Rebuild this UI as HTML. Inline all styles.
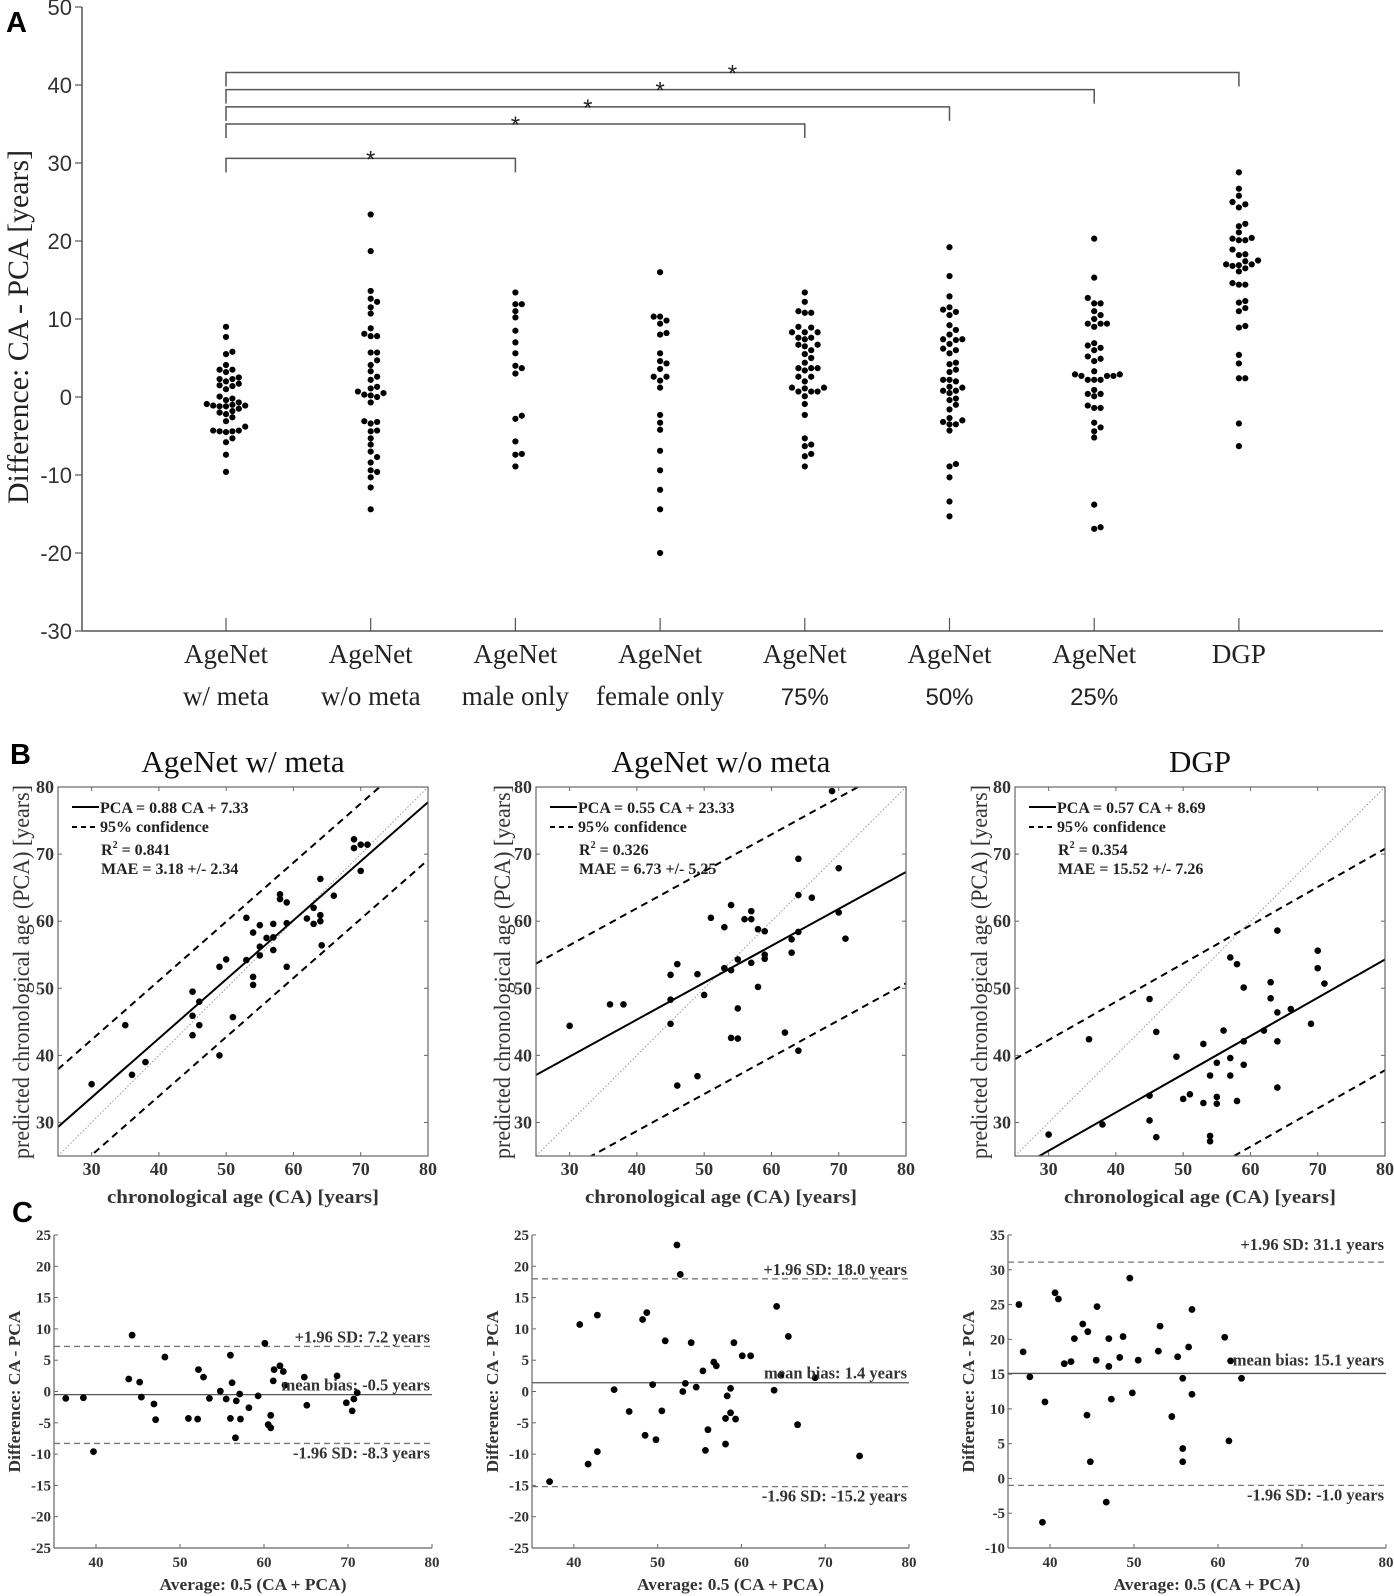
<!DOCTYPE html>
<html><head><meta charset="utf-8"><style>
html,body{margin:0;padding:0;background:#fff;}
svg{display:block;}
</style></head><body>
<svg id="fig" width="1394" height="1596" viewBox="0 0 1394 1596" xmlns="http://www.w3.org/2000/svg">
<text x="6" y="32" font-family="Liberation Sans, sans-serif" font-weight="bold" font-size="29">A</text>
<text x="10" y="764" font-family="Liberation Sans, sans-serif" font-weight="bold" font-size="29">B</text>
<text x="12" y="1222" font-family="Liberation Sans, sans-serif" font-weight="bold" font-size="29">C</text>
</svg>
<script>
// ===== Panel A data =====
const catLine1 = ['AgeNet','AgeNet','AgeNet','AgeNet','AgeNet','AgeNet','AgeNet','DGP'];
const catLine2 = ['w/ meta','w/o meta','male only','female only','75%','50%','25%',''];
const aTicks = [-30,-20,-10,0,10,20,30,40,50];
const aG1 = [-1.1,-1.0,-9.6,2.0,9.0,1.5,-0.9,-2.0,-4.5,5.5,-4.3,-4.4,3.5,2.3,-1.1,0.05,-1.2,-4.3,5.8,1.4,-1.5,-7.4,-0.4,-4.4,-2.6,-0.7,7.7,-5.3,-5.8,-3.8,1.7,3.5,4.1,3.2,1.0,2.3,-2.2,2.5,-1.8,-1.2,-3.1,-0.2];
const aG2 = [-14.4,10.7,-11.6,12.2,-9.6,0.3,-3.2,11.5,-7.0,12.6,1.1,-7.7,-3.1,8.1,23.4,18.7,0,1.3,7.8,0.7,3.3,-9.4,-6.1,4.7,4.1,-8.4,-4.3,-0.7,-3.4,0.5,7.8,-4.4,5.7,5.7,0.2,13.6,2.6,8.8,-5.3,2.2,-10.3];
const aG3 = [13.4,11.9,11.9,11.0,10.2,8.5,7.0,5.6,4.0,3.7,3.0,-2.4,-2.8,-5.7,-7.4,-7.3,-8.9];
const aG4 = [16.0,10.3,10.3,9.8,9.4,8.2,8.0,5.6,4.6,4.3,3.6,2.6,2.6,2.1,1.2,-2.3,-3.3,-4.2,-6.9,-9.4,-11.9,-14.4,-20.0];
const aG5 = [13.4,12.2,11.0,10.8,10.8,9.0,8.9,8.3,8.3,8.3,7.6,7.6,7.4,6.7,6.7,6.5,6.0,5.5,5.0,4.4,3.7,3.7,3.7,3.4,2.6,2.6,2.0,1.2,1.2,1.1,0.7,0.7,0.7,0.1,-0.9,-2.3,-5.3,-6.1,-6.3,-7.3,-7.6,-8.9];
const aG6 = [19.2,15.5,12.9,11.5,11.2,10.9,10.5,9.2,8.6,8.0,7.4,7.4,7.3,6.8,6.2,6.0,5.6,4.4,4.2,3.5,3.2,2.2,2.2,2.0,1.3,1.2,0.8,0.8,0.5,-0.2,-0.4,-1.0,-1.6,-2.7,-3.0,-3.2,-3.5,-3.5,-4.3,-8.6,-8.9,-10.3,-13.4,-15.3];
const aG7 = [20.3,15.3,12.7,12.0,12.0,11.0,10.5,10.0,9.4,9.0,9.4,9.4,6.9,6.6,6.3,6.0,4.9,5.2,4.6,3.3,2.9,2.9,2.7,2.7,2.7,2.2,2.2,2.2,0.9,0.4,0.4,0.1,-1.1,-1.4,-1.4,-3.3,-3.9,-4.4,-5.2,-13.8,-16.7,-16.9];
const aG8 = [25.0,18.2,14.6,-6.3,11.0,26.7,25.8,16.5,16.8,20.1,22.2,9.1,21.1,2.4,17.0,24.7,-3.4,16.1,20.1,11.4,17.4,20.4,28.8,12.3,17.0,18.3,21.9,8.9,17.5,14.4,4.3,2.4,18.9,24.3,12.1,20.3,5.4,16.9,14.4];
const sigFrom = [0,0,0,0,0];
const sigTo = [7,6,5,4,2];
const sigLevel = [41.6,39.4,37.2,35.0,30.6];

// ===== Panel B data =====
const bTitles = ['AgeNet w/ meta','AgeNet w/o meta','DGP'];
const bTicks = [30,40,50,60,70,80];
const bCA1 = [30,35,36,38,45,45,45,46,46,49,49,50,51,53,53,54,54,54,55,55,55,56,57,57,57,58,58,59,59,59,62,63,63,64,64,64,64.2,66,69,69,70,70,71];
const bPCA1 = [35.7,44.5,37.1,39.0,49.5,45.9,43.0,48.0,44.5,53.2,40.0,54.3,45.7,60.5,54.2,58.3,51.7,50.5,59.4,56.2,54.9,57.5,59.6,57.6,55.7,64.0,63.3,62.8,59.7,53.2,60.4,62.0,59.6,66.3,60.9,60.0,56.4,63.8,72.2,70.9,71.4,67.5,71.4];
const bCA2 = [30,36,38,45,45,45,46,46,49,49,50,51,53,53,54,54,54,55,55,55,56,57,57,57,58,58,59,59,59,62,63,63,64,64,64,64,66,69,70,70,71];
const bPCA2 = [44.4,47.6,47.6,52.0,48.3,44.7,53.6,35.5,52.1,36.9,49.0,60.5,59.1,53.0,62.4,52.7,42.6,54.3,47.0,42.5,60.3,61.5,60.3,53.8,58.8,50.2,58.5,55.0,54.4,43.4,57.3,55.3,69.3,63.9,58.4,40.7,63.5,79.4,67.9,61.3,57.4];
const bCA3 = [30,36,38,45,45,45,46,46,49,50,51,53,53,54,54,54,55,55,55,56,57,57,57,58,58,59,59,59,62,63,63,64,64,64,64,66,69,70,70,71];
const bPCA3 = [28.2,42.4,29.7,48.4,34.0,30.3,43.5,27.8,39.8,33.5,34.2,41.7,32.9,37.0,28.0,27.2,38.9,33.8,32.8,43.7,54.6,39.6,37.0,53.6,33.2,50.1,42.1,38.6,43.7,50.9,48.5,58.6,46.4,42.1,35.2,46.9,44.7,55.6,53.0,50.7];
const fitSlope = [0.88,0.55,0.57];
const fitIntercept = [7.33,23.33,8.69];
const confHalf = [8.6,16.6,16.5];
const legendFit = ['PCA = 0.88 CA + 7.33','PCA = 0.55 CA + 23.33','PCA = 0.57 CA + 8.69'];
const legendR2 = ['0.841','0.326','0.354'];
const legendMAE = ['MAE = 3.18 +/- 2.34','MAE = 6.73 +/- 5.25','MAE = 15.52 +/- 7.26'];

// ===== Panel C data =====
const cAvg1 = [36.4,38.5,39.7,43.9,44.3,45.2,45.4,46.9,47.1,48.2,51.0,52.1,52.2,52.8,53.5,54.8,55.5,56.0,56.0,56.2,56.7,56.6,57.1,57.2,58.2,59.3,60.1,60.5,60.8,60.8,61.1,61.2,61.9,62.3,62.5,64.8,65.1,68.7,69.8,70.7,70.5,71.1];
const cDiff1 = [-1.1,-1.0,-9.6,2.0,9.0,1.5,-0.9,-2.0,-4.5,5.5,-4.3,-4.4,3.5,2.3,-1.1,0.05,-1.2,-4.3,5.8,1.4,-1.5,-7.4,-0.4,-4.4,-2.6,-0.7,7.7,-5.3,-5.8,-3.8,1.7,3.5,4.1,3.2,1.0,2.3,-2.2,2.5,-1.8,-1.2,-3.1,-0.2];
const cAvg2 = [37.1,40.7,41.7,42.8,42.8,44.8,46.6,48.2,48.5,48.7,49.4,49.8,50.5,50.9,52.3,52.7,53.0,53.3,54.0,54.6,55.4,55.7,56.0,56.7,57.0,58.1,58.1,58.3,58.7,58.7,59.1,59.3,60.1,61.1,63.9,64.2,64.7,65.6,66.7,68.8,74.1];
const cDiff2 = [-14.4,10.7,-11.6,12.2,-9.6,0.3,-3.2,11.5,-7.0,12.6,1.1,-7.7,-3.1,8.1,23.4,18.7,0,1.3,7.8,0.7,3.3,-9.4,-6.1,4.7,4.1,-8.4,-4.3,-0.7,-3.4,0.5,7.8,-4.4,5.7,5.7,0.2,13.6,2.6,8.8,-5.3,2.2,-10.3];
const cAvg3 = [36.3,36.8,37.6,39.1,39.4,40.6,41.0,41.7,42.5,42.9,43.9,44.4,44.5,44.8,45.5,45.6,46.7,47.0,47.0,47.3,48.3,48.7,49.5,49.8,50.5,52.9,53.1,54.5,55.2,55.8,55.8,55.8,56.5,56.9,56.9,60.8,61.3,61.5,62.8];
const cDiff3 = [25.0,18.2,14.6,-6.3,11.0,26.7,25.8,16.5,16.8,20.1,22.2,9.1,21.1,2.4,17.0,24.7,-3.4,16.1,20.1,11.4,17.4,20.4,28.8,12.3,17.0,18.3,21.9,8.9,17.5,14.4,4.3,2.4,18.9,24.3,12.1,20.3,5.4,16.9,14.4];
const cMean = [-0.5,1.4,15.1];
const cUpper = [7.2,18.0,31.1];
const cLower = [-8.3,-15.2,-1.0];
const cXTicks = [40,50,60,70,80];
const cYTicks12 = [-25,-20,-15,-10,-5,0,5,10,15,20,25];
const cYTicks3 = [-10,-5,0,5,10,15,20,25,30,35];

// ===== helpers =====
const NS = 'http://www.w3.org/2000/svg';
const svg = document.getElementById('fig');
function el(tag, attrs, parent) {
  const e = document.createElementNS(NS, tag);
  for (const k in attrs) e.setAttribute(k, attrs[k]);
  (parent || svg).appendChild(e);
  return e;
}
const SERIF = '"Liberation Serif", serif';
const SANS = '"Liberation Sans", sans-serif';

// ===== Panel A =====
const gA = el('g', {});


const aLeft = 82, aRight = 1383, aTop = 7, aBottom = 631;
const aMin = -30, aMax = 50;
function yA(v) { return aBottom - (v - aMin) * (aBottom - aTop) / (aMax - aMin); }
function xA(i) { return 226 + 144.7 * i; }
let ln = el('line', {x1: aLeft, y1: aTop, x2: aLeft, y2: aBottom, stroke: '#555', 'stroke-width': 1.5}, gA);


ln = el('line', {x1: aLeft, y1: aBottom, x2: aRight, y2: aBottom, stroke: '#555', 'stroke-width': 1.5}, gA);


aTicks.forEach(t => {
  const y = yA(t);
  el('line', {x1: aLeft - 7, y1: y, x2: aLeft, y2: y, stroke: '#555', 'stroke-width': 1.2}, gA);
  const tx = el('text', {x: aLeft - 10, y: y + 8, 'text-anchor': 'end', 'font-family': SANS, 'font-size': 22, fill: '#333'}, gA);
  tx.textContent = String(t);
  
  
});
const yt = el('text', {transform: 'translate(28,' + 327 + ') rotate(-90)', 'text-anchor': 'middle', 'font-family': SERIF, 'font-size': 30, fill: '#222', textLength: 354, lengthAdjust: 'spacingAndGlyphs'}, gA);
yt.textContent = 'Difference: CA - PCA [years]';


catLine1.forEach((c, i) => {
  const x = xA(i);
  el('line', {x1: x, y1: aBottom, x2: x, y2: aBottom - 13, stroke: '#555', 'stroke-width': 1.2}, gA);
  const t1 = el('text', {x: x, y: 663, 'text-anchor': 'middle', 'font-family': SERIF, 'font-size': 27, fill: '#222'}, gA);
  t1.textContent = c;
  
  
  if (catLine2[i]) {
    const isPct = catLine2[i].indexOf('%') >= 0;
    const t2 = el('text', {x: x, y: 705, 'text-anchor': 'middle', 'font-family': isPct ? SANS : SERIF, 'font-size': isPct ? 24 : 27, fill: '#222'}, gA);
    t2.textContent = catLine2[i];
    
    
  }
});
// brackets
sigFrom.forEach((f, k) => {
  const y = yA(sigLevel[k]);
  const x1 = xA(f), x2 = xA(sigTo[k]);
  const p = el('path', {d: 'M' + x1 + ',' + (y + 14) + 'V' + y + 'H' + x2 + 'V' + (y + 14), fill: 'none', stroke: '#555', 'stroke-width': 1.5}, gA);
  
  
  const s = el('text', {x: (x1 + x2) / 2, y: y + 9, 'text-anchor': 'middle', 'font-family': SANS, 'font-size': 24, fill: '#222'}, gA);
  s.textContent = '*';
  
  
});
// swarm dots
const aGroups = [aG1, aG2, aG3, aG4, aG5, aG6, aG7, aG8];
aGroups.forEach((vals, gi) => {
  const cx = xA(gi);
  const sorted = vals.slice().sort((a, b) => a - b);
  const placed = [];
  const D = 6.0, step = 6.4;
  sorted.forEach(v => {
    const y = yA(v);
    let off = 0;
    for (let k = 0; k < 40; k++) {
      const m = Math.ceil(k / 2) * (k % 2 === 1 ? 1 : -1);
      const cand = m * step;
      const hit = placed.some(p => Math.hypot(p[0] - cand, p[1] - y) < D);
      if (!hit) { off = cand; break; }
    }
    placed.push([off, y]);
    const c = el('circle', {cx: cx + off, cy: y, r: 3.1, fill: '#000'}, gA);
    
    
  });
});

// ===== Panel B =====
const bLefts = [58, 536, 1015];
const bBoxW = 370, bTop = 787, bBot = 1156;
const bCA = [bCA1, bCA2, bCA3];
const bPCA = [bPCA1, bPCA2, bPCA3];
const bYLabX = [22, 503, 980];
for (let p = 0; p < 3; p++) {
  const L = bLefts[p], R = L + bBoxW;
  const g = el('g', {});
  
  
  const sx = v => L + (v - 25) * (R - L) / 55;
  const sy = v => bBot - (v - 25) * (bBot - bTop) / 55;
  const cid = 'bclip' + p;
  const cp = el('clipPath', {id: cid}, g);
  el('rect', {x: L, y: bTop, width: R - L, height: bBot - bTop}, cp);
  const inner = el('g', {'clip-path': 'url(#' + cid + ')'}, g);
  let l = el('line', {x1: sx(25), y1: sy(25), x2: sx(80), y2: sy(80), stroke: '#999', 'stroke-width': 1, 'stroke-dasharray': '1.5,2'}, inner);
  
  
  const f = x => fitSlope[p] * x + fitIntercept[p];
  l = el('line', {x1: sx(25), y1: sy(f(25)), x2: sx(80), y2: sy(f(80)), stroke: '#000', 'stroke-width': 2}, inner);
  
  
  [1, -1].forEach(sg => {
    const d = el('line', {x1: sx(25), y1: sy(f(25) + sg * confHalf[p]), x2: sx(80), y2: sy(f(80) + sg * confHalf[p]), stroke: '#000', 'stroke-width': 2, 'stroke-dasharray': '7,5'}, inner);
    
    
  });
  bCA[p].forEach((ca, i) => {
    const c = el('circle', {cx: sx(ca), cy: sy(bPCA[p][i]), r: 3.3, fill: '#000'}, inner);
    
    
  });
  const box = el('rect', {x: L, y: bTop, width: R - L, height: bBot - bTop, fill: 'none', stroke: '#666', 'stroke-width': 1.2}, g);
  
  
  bTicks.forEach(t => {
    el('line', {x1: sx(t), y1: bBot, x2: sx(t), y2: bBot - 4, stroke: '#666'}, g);
    el('line', {x1: sx(t), y1: bTop, x2: sx(t), y2: bTop + 4, stroke: '#666'}, g);
    el('line', {x1: L, y1: sy(t), x2: L + 4, y2: sy(t), stroke: '#666'}, g);
    el('line', {x1: R, y1: sy(t), x2: R - 4, y2: sy(t), stroke: '#666'}, g);
    const tx = el('text', {x: sx(t), y: bBot + 19, 'text-anchor': 'middle', 'font-family': SERIF, 'font-weight': 'bold', 'font-size': 18, fill: '#333'}, g);
    tx.textContent = String(t);
    
    
    const ty = el('text', {x: L - 4, y: sy(t) + 6, 'text-anchor': 'end', 'font-family': SERIF, 'font-weight': 'bold', 'font-size': 18, fill: '#333'}, g);
    ty.textContent = String(t);
    
    
  });
  const ttl = el('text', {x: (L + R) / 2, y: 772, 'text-anchor': 'middle', 'font-family': SERIF, 'font-size': 31, fill: '#111'}, g);
  ttl.textContent = bTitles[p];
  
  
  const xl = el('text', {x: (L + R) / 2, y: 1203, 'text-anchor': 'middle', 'font-family': SERIF, 'font-weight': 'bold', 'font-size': 19, fill: '#333', textLength: 272, lengthAdjust: 'spacingAndGlyphs'}, g);
  xl.textContent = 'chronological age (CA) [years]';
  
  
  const yl = el('text', {transform: 'translate(' + (bYLabX[p] + 7) + ',' + 972 + ') rotate(-90)', 'text-anchor': 'middle', 'font-family': SERIF, 'font-size': 23, fill: '#333', textLength: 374, lengthAdjust: 'spacingAndGlyphs'}, g);
  yl.textContent = 'predicted chronological age (PCA) [years]';
  
  
  const lg = el('g', {}, g);
  
  
  el('line', {x1: L + 14, y1: 807, x2: L + 41, y2: 807, stroke: '#000', 'stroke-width': 2}, lg);
  el('line', {x1: L + 14, y1: 827, x2: L + 41, y2: 827, stroke: '#000', 'stroke-width': 2, 'stroke-dasharray': '5,4'}, lg);
  const lt1 = el('text', {x: L + 42, y: 813, 'font-family': SERIF, 'font-weight': 'bold', 'font-size': 16, fill: '#222'}, lg);
  lt1.textContent = legendFit[p];
  const lt2 = el('text', {x: L + 42, y: 832, 'font-family': SERIF, 'font-weight': 'bold', 'font-size': 16, fill: '#222'}, lg);
  lt2.textContent = '95% confidence';
  const lt3 = el('text', {x: L + 43, y: 855, 'font-family': SERIF, 'font-weight': 'bold', 'font-size': 16, fill: '#222'}, lg);
  lt3.innerHTML = 'R<tspan dy="-7" font-size="10">2</tspan><tspan dy="7"> = ' + legendR2[p] + '</tspan>';
  const lt4 = el('text', {x: L + 43, y: 874, 'font-family': SERIF, 'font-weight': 'bold', 'font-size': 16, fill: '#222'}, lg);
  lt4.textContent = legendMAE[p];
}

// ===== Panel C =====
const cLefts = [54, 532, 1008];
const cRights = [432, 909, 1386];
const cTop = 1235, cBot = 1548;
const cAvg = [cAvg1, cAvg2, cAvg3];
const cDiff = [cDiff1, cDiff2, cDiff3];
const cYT = [cYTicks12, cYTicks12, cYTicks3];
for (let p = 0; p < 3; p++) {
  const L = cLefts[p], R = cRights[p];
  const yt = cYT[p];
  const ymin = yt[0], ymax = yt[yt.length - 1];
  const g = el('g', {});
  
  
  const sx = v => L + (v - 35) * (R - L) / 45;
  const sy = v => cBot - (v - ymin) * (cBot - cTop) / (ymax - ymin);
  let a = el('line', {x1: L, y1: cTop, x2: L, y2: cBot, stroke: '#666', 'stroke-width': 1.2}, g);
  
  
  a = el('line', {x1: L, y1: cBot, x2: R, y2: cBot, stroke: '#666', 'stroke-width': 1.2}, g);
  
  
  yt.forEach(t => {
    el('line', {x1: L, y1: sy(t), x2: L + 4, y2: sy(t), stroke: '#666'}, g);
    const tx = el('text', {x: L - 3, y: sy(t) + 5, 'text-anchor': 'end', 'font-family': SERIF, 'font-weight': 'bold', 'font-size': 15, fill: '#333'}, g);
    tx.textContent = String(t);
    
    
  });
  cXTicks.forEach(t => {
    el('line', {x1: sx(t), y1: cBot, x2: sx(t), y2: cBot - 4, stroke: '#666'}, g);
    const tx = el('text', {x: sx(t), y: 1567, 'text-anchor': 'middle', 'font-family': SERIF, 'font-weight': 'bold', 'font-size': 15, fill: '#333'}, g);
    tx.textContent = String(t);
    
    
  });
  const m = el('line', {x1: L, y1: sy(cMean[p]), x2: R, y2: sy(cMean[p]), stroke: '#555', 'stroke-width': 1.3}, g);
  
  
  [cUpper[p], cLower[p]].forEach(v => {
    const d = el('line', {x1: L, y1: sy(v), x2: R, y2: sy(v), stroke: '#777', 'stroke-width': 1.3, 'stroke-dasharray': '6,4'}, g);
    
    
  });
  cAvg[p].forEach((x, i) => {
    const c = el('circle', {cx: sx(x), cy: sy(cDiff[p][i]), r: 3.4, fill: '#000'}, g);
    
    
  });
  const up = el('text', {x: R - 2, y: sy(cUpper[p]) - (p === 2 ? 12 : 4), 'text-anchor': 'end', 'font-family': SERIF, 'font-weight': 'bold', 'font-size': 16.5, fill: '#333'}, g);
  up.textContent = '+1.96 SD: ' + cUpper[p].toFixed(1) + ' years';
  
  
  const mb = el('text', {x: R - 2, y: sy(cMean[p]) - (p === 2 ? 8 : 4), 'text-anchor': 'end', 'font-family': SERIF, 'font-weight': 'bold', 'font-size': 16.5, fill: '#333'}, g);
  mb.textContent = 'mean bias: ' + cMean[p].toFixed(1) + ' years';
  
  
  const lo = el('text', {x: R - 2, y: sy(cLower[p]) + 15, 'text-anchor': 'end', 'font-family': SERIF, 'font-weight': 'bold', 'font-size': 16.5, fill: '#333'}, g);
  lo.textContent = '-1.96 SD: ' + cLower[p].toFixed(1) + ' years';
  
  
  const xl = el('text', {x: (L + R) / 2 + 10, y: 1590, 'text-anchor': 'middle', 'font-family': SERIF, 'font-weight': 'bold', 'font-size': 17, fill: '#333', textLength: 187, lengthAdjust: 'spacingAndGlyphs'}, g);
  xl.textContent = 'Average: 0.5 (CA + PCA)';
  
  
  const yl = el('text', {transform: 'translate(' + (L - 34) + ',' + ((cTop + cBot) / 2) + ') rotate(-90)', 'text-anchor': 'middle', 'font-family': SERIF, 'font-weight': 'bold', 'font-size': 17, fill: '#333', textLength: 162, lengthAdjust: 'spacingAndGlyphs'}, g);
  yl.textContent = 'Difference: CA - PCA';
  
  
}
</script>
</body></html>
